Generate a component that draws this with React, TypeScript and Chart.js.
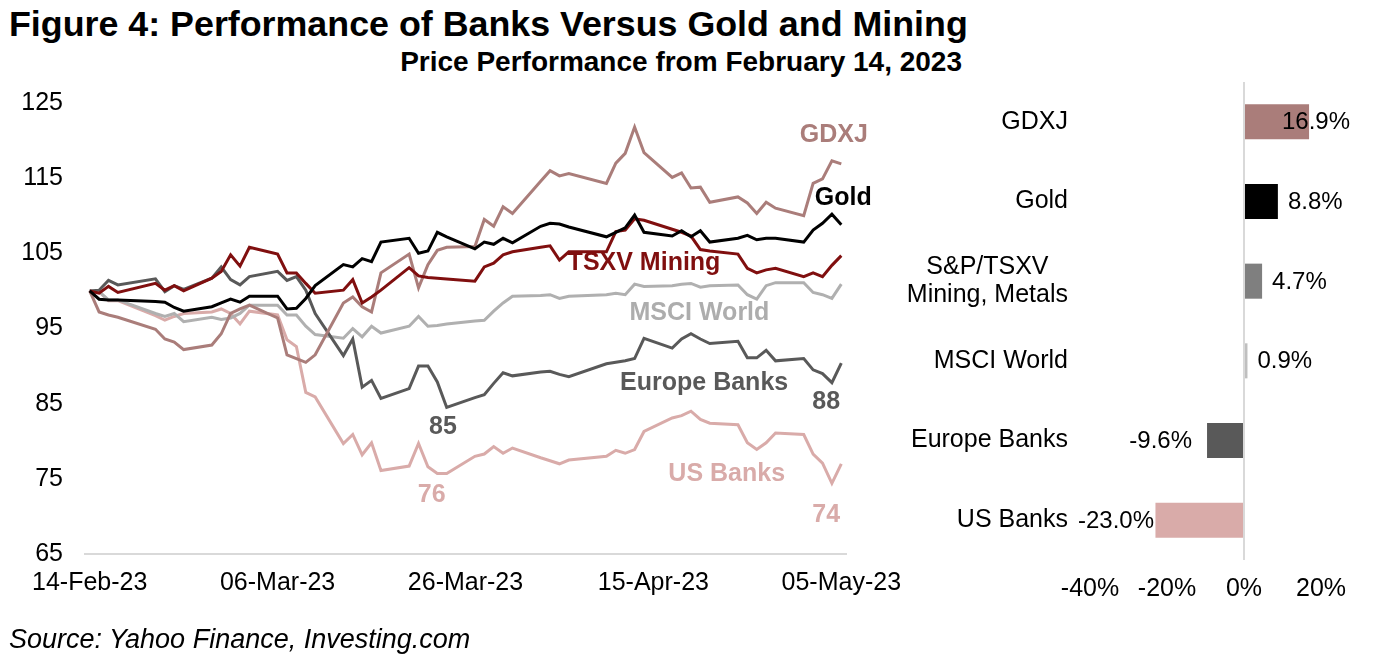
import React, { useEffect, useRef } from 'react';
import { Chart, registerables } from 'chart.js';

Chart.register(...registerables);

const FONT = '"Liberation Sans", Arial, Helvetica, sans-serif';

// ---------- Line chart data ----------
const startDate = '2023-02-14';
const dates = [
  '2023-02-14', '2023-02-15', '2023-02-16', '2023-02-17',
  '2023-02-21', '2023-02-22', '2023-02-23', '2023-02-24',
  '2023-02-27', '2023-02-28', '2023-03-01', '2023-03-02', '2023-03-03',
  '2023-03-06', '2023-03-07', '2023-03-08', '2023-03-09', '2023-03-10',
  '2023-03-13', '2023-03-14', '2023-03-15', '2023-03-16', '2023-03-17',
  '2023-03-20', '2023-03-21', '2023-03-22', '2023-03-23', '2023-03-24',
  '2023-03-27', '2023-03-28', '2023-03-29', '2023-03-30', '2023-03-31',
  '2023-04-03', '2023-04-04', '2023-04-05', '2023-04-06',
  '2023-04-10', '2023-04-11', '2023-04-12', '2023-04-13', '2023-04-14',
  '2023-04-17', '2023-04-18', '2023-04-19', '2023-04-20', '2023-04-21',
  '2023-04-24', '2023-04-25', '2023-04-26', '2023-04-27', '2023-04-28',
  '2023-05-01', '2023-05-02', '2023-05-03', '2023-05-04', '2023-05-05',
];

const xTickDates = ['2023-02-14', '2023-03-06', '2023-03-26', '2023-04-15', '2023-05-05'];
const xTickLabels = ['14-Feb-23', '06-Mar-23', '26-Mar-23', '15-Apr-23', '05-May-23'];

const gold = [
  100.0, 98.9, 98.8, 98.8,
  98.6, 98.5, 97.8, 97.3,
  97.9, 98.4, 98.9, 98.5, 99.3,
  99.3, 97.6, 97.7, 99.0, 100.7,
  103.5, 103.2, 104.3, 103.9, 106.5,
  107.0, 105.0, 105.3, 107.8, 107.2,
  105.6, 106.5, 106.2, 107.0, 106.4,
  108.6, 109.0, 108.9, 108.5,
  107.2, 107.8, 108.4, 110.1, 107.8,
  107.3, 108.0, 107.2, 108.0, 106.5,
  107.0, 107.4, 106.8, 107.0, 107.0,
  106.5, 108.1, 109.0, 110.2, 108.8,
];

const tsxvMining = [
  100.0, 99.7, 100.6, 99.8,
  101.0, 100.1, 100.7, 100.0,
  101.7, 102.6, 104.8, 103.3, 105.8,
  104.9, 102.4, 102.4, 101.0, 99.7,
  100.1, 101.5, 98.4, 99.2, 100.1,
  103.1, 102.0, 101.8, 101.7, 101.6,
  101.3, 103.2, 103.7, 104.8, 105.2,
  105.8, 106.0, 104.1, 105.2,
  105.2, 107.9, 108.1, 109.6, 109.4,
  108.2, 107.8, 107.3, 105.5, 105.3,
  104.9, 103.0, 102.4, 102.8, 103.0,
  101.9, 102.4, 101.9, 103.4, 104.7,
];

const gdxj = [
  100.0, 97.2, 96.8, 96.5,
  94.9, 93.6, 93.2, 92.2,
  92.8, 94.3, 97.0, 97.6, 98.1,
  96.4, 91.5, 91.0, 90.5, 91.5,
  98.4, 99.2, 97.9, 97.2, 102.4,
  104.9, 100.4, 103.5, 105.4, 105.8,
  105.9, 109.5, 108.6, 111.2, 110.3,
  114.6, 116.0, 115.3, 115.6,
  114.3, 117.0, 118.3, 121.8, 118.4,
  115.1, 115.7, 113.7, 113.8, 111.8,
  112.5, 111.7, 110.3, 111.8, 111.0,
  110.0, 114.3, 114.9, 117.3, 116.9,
];

const msciWorld = [
  100.0, 99.9, 98.8, 98.8,
  97.0, 96.6, 97.0, 95.9,
  96.5, 96.2, 96.4, 97.0, 98.1,
  98.1, 96.8, 96.8, 95.3, 94.2,
  93.7, 95.0, 93.9, 95.3, 94.4,
  95.3, 96.6, 95.3, 95.4, 95.6,
  96.0, 96.1, 97.3, 98.4, 99.3,
  99.4, 99.5, 99.0, 99.3,
  99.5, 99.7, 99.5, 100.9, 100.6,
  100.7, 100.9, 101.0, 100.5, 100.7,
  100.8, 99.5, 98.9, 100.7, 101.1,
  101.1, 99.8, 99.5, 99.0, 100.9,
];

const europeBanks = [
  100.0, 100.1, 101.4, 100.8,
  101.6, 99.9, 100.7, 100.2,
  101.7, 103.2, 101.5, 100.8, 101.9,
  102.6, 101.4, 101.9, 100.1, 97.0,
  91.4, 93.6, 87.2, 88.1, 85.7,
  87.0, 90.0, 90.0, 87.9, 84.5,
  85.8, 86.2, 87.7, 89.1, 88.7,
  89.2, 89.3, 88.9, 88.6,
  90.3, 90.5, 90.7, 91.0, 93.7,
  92.4, 93.6, 94.3, 93.6, 93.0,
  93.3, 91.1, 91.1, 92.1, 90.7,
  91.0, 89.5, 89.0, 87.8, 90.4,
];

const usBanks = [
  100.0, 99.9, 98.7, 98.7,
  96.7, 96.1, 96.6, 97.0,
  97.2, 97.6, 97.0, 95.6, 97.3,
  96.8, 93.5, 92.6, 86.5, 85.9,
  79.7, 80.9, 78.2, 79.8, 76.1,
  76.7, 79.7, 76.6, 75.7, 75.7,
  78.0, 78.3, 79.3, 78.4, 79.1,
  77.8, 77.4, 77.0, 77.5,
  78.0, 78.8, 78.4, 78.9, 81.3,
  83.1, 83.4, 84.0, 82.9, 82.4,
  82.2, 79.8, 78.9, 79.8, 81.1,
  80.9, 78.3, 77.1, 74.4, 77.0,
];

const seriesNames = ['Gold', 'TSXV Mining', 'GDXJ', 'Europe Banks', 'MSCI World', 'US Banks'];
const seriesValues = [gold, tsxvMining, gdxj, europeBanks, msciWorld, usBanks];
const seriesColors = ['#000000', '#800F0F', '#AA7D7A', '#595959', '#B0B0B0', '#D9ABA9'];

// in-chart labels: text, position (day offset, value), colour
const lineLabelTexts = ['GDXJ', 'Gold', 'TSXV Mining', 'MSCI World', 'Europe Banks', '88', '85', '76', 'US Banks', '74'];
const lineLabelDays = [79.2, 80.2, 59.0, 64.9, 65.4, 78.4, 37.6, 36.4, 67.8, 78.4];
const lineLabelValues = [120.7, 112.4, 103.65, 97.0, 87.75, 85.2, 81.9, 72.9, 75.65, 70.2];
const lineLabelColors = ['#AA7D7A', '#000000', '#800F0F', '#ADADAD', '#595959', '#595959', '#595959', '#D9ABA9', '#D9ABA9', '#D9ABA9'];

// ---------- Bar chart data ----------
const barCategories = [['GDXJ'], ['Gold'], ['S&P/TSXV', 'Mining, Metals'], ['MSCI World'], ['Europe Banks'], ['US Banks']];
const barValues = [16.9, 8.8, 4.7, 0.9, -9.6, -23.0];
const barColors = ['#AA7D7A', '#000000', '#7F7F7F', '#BFBFBF', '#595959', '#D9ABA9'];

function dayOf(s: string): number {
  const [y, m, d] = s.split('-').map(Number);
  const [y0, m0, d0] = startDate.split('-').map(Number);
  return (Date.UTC(y, m - 1, d) - Date.UTC(y0, m0 - 1, d0)) / 86400000;
}

const lineLabelPlugin = {
  id: 'lineLabels',
  afterDatasetsDraw(chart: any) {
    const { ctx } = chart;
    const xs = chart.scales.x;
    const ys = chart.scales.y;
    ctx.save();
    ctx.font = `bold 25px ${FONT}`;
    ctx.textAlign = 'center';
    ctx.textBaseline = 'middle';
    lineLabelTexts.forEach((t, i) => {
      ctx.fillStyle = lineLabelColors[i];
      ctx.fillText(t, xs.getPixelForValue(lineLabelDays[i]), ys.getPixelForValue(lineLabelValues[i]));
    });
    ctx.restore();
  },
};

const barTextPlugin = {
  id: 'barTexts',
  afterDatasetsDraw(chart: any) {
    const { ctx } = chart;
    const ys = chart.scales.y;
    const meta = chart.getDatasetMeta(0);
    ctx.save();
    ctx.textBaseline = 'middle';
    // category labels
    ctx.font = `25px ${FONT}`;
    ctx.fillStyle = '#000';
    ctx.textAlign = 'center';
    barCategories.forEach((lines, i) => {
      const yc = ys.getPixelForValue(i);
      const maxW = Math.max(...lines.map((l) => ctx.measureText(l).width));
      const cx = 188 - maxW / 2;
      lines.forEach((l, j) => {
        ctx.fillText(l, cx, yc + (j - (lines.length - 1) / 2) * 28);
      });
    });
    // value labels
    ctx.font = `24px ${FONT}`;
    ctx.textAlign = 'left';
    meta.data.forEach((bar: any, i: number) => {
      const v = barValues[i];
      const text = v.toFixed(1) + '%';
      const w = ctx.measureText(text).width;
      let left;
      if (v >= 0) {
        left = bar.x + 10;
        if (left + w > chart.width - 37) left = chart.width - 37 - w;
      } else {
        left = bar.x - 15 - w;
        if (left < 198) left = 198;
      }
      ctx.fillText(text, left, bar.y + 1);
    });
    ctx.restore();
  },
};

export default function App() {
  const leftRef = useRef<HTMLCanvasElement>(null);
  const rightRef = useRef<HTMLCanvasElement>(null);

  useEffect(() => {
    const tickFont = { family: FONT, size: 25 };
    const lineChart = new Chart(leftRef.current as HTMLCanvasElement, {
      type: 'line',
      data: {
        datasets: seriesNames.map((name, k) => ({
          label: name,
          data: dates.map((d, i) => ({ x: dayOf(d), y: seriesValues[k][i] })),
          borderColor: seriesColors[k],
          backgroundColor: seriesColors[k],
          borderWidth: 3,
          pointRadius: 0,
          tension: 0,
          fill: false,
        })),
      },
      options: {
        animation: false,
        responsive: false,
        layout: { padding: { left: 0, top: 103, right: 64, bottom: 53 } },
        plugins: { legend: { display: false }, tooltip: { enabled: false } },
        scales: {
          x: {
            type: 'linear',
            min: -0.5,
            max: 80.5,
            afterBuildTicks: (s: any) => {
              s.ticks = xTickDates.map((d) => ({ value: dayOf(d) }));
            },
            afterFit: (s: any) => {
              s.height = 60;
              s.paddingLeft = 0;
              s.paddingRight = 0;
            },
            ticks: {
              autoSkip: false,
              maxRotation: 0,
              font: tickFont,
              color: '#000',
              padding: 14,
              callback: (_v: any, i: number) => xTickLabels[i],
            },
            grid: { display: false, drawTicks: false },
            border: { display: true, color: '#D9D9D9', width: 2 },
          },
          y: {
            min: 65,
            max: 125,
            afterFit: (s: any) => {
              s.width = 85;
              s.paddingTop = 0;
              s.paddingBottom = 0;
            },
            ticks: { stepSize: 10, font: tickFont, color: '#000', padding: 22 },
            grid: { display: false, drawTicks: false },
            border: { display: false },
          },
        },
      } as any,
      plugins: [lineLabelPlugin],
    });

    const barChart = new Chart(rightRef.current as HTMLCanvasElement, {
      type: 'bar',
      data: {
        labels: barCategories.map((c) => c.join(' ')),
        datasets: [
          {
            data: barValues,
            backgroundColor: barColors,
            categoryPercentage: 1,
            barPercentage: 0.44,
          },
        ],
      },
      options: {
        indexAxis: 'y',
        animation: false,
        responsive: false,
        layout: { padding: { left: 0, top: 82, right: 66, bottom: 47 } },
        plugins: { legend: { display: false }, tooltip: { enabled: false } },
        scales: {
          x: {
            min: -40,
            max: 20,
            afterFit: (s: any) => {
              s.height = 60;
              s.paddingLeft = 0;
              s.paddingRight = 0;
            },
            ticks: {
              stepSize: 20,
              font: tickFont,
              color: '#000',
              padding: 14,
              maxRotation: 0,
              callback: (v: any) => v + '%',
            },
            grid: {
              drawTicks: false,
              lineWidth: 2,
              color: (ctx: any) => (ctx.tick && ctx.tick.value === 0 ? '#D9D9D9' : 'rgba(0,0,0,0)'),
            },
            border: { display: false },
          },
          y: {
            afterFit: (s: any) => {
              s.width = 210;
              s.paddingTop = 0;
              s.paddingBottom = 0;
            },
            ticks: { display: false },
            grid: { display: false, drawTicks: false },
            border: { display: false },
          },
        },
      } as any,
      plugins: [barTextPlugin],
    });

    return () => {
      lineChart.destroy();
      barChart.destroy();
    };
  }, []);

  return (
    <div
      style={{
        position: 'absolute',
        left: 0,
        top: 0,
        width: 1387,
        height: 667,
        background: '#fff',
        fontFamily: FONT,
        color: '#000',
        overflow: 'hidden',
      }}
    >
      <div style={{ position: 'absolute', left: 9, top: 4, fontSize: 35.8, fontWeight: 'bold', lineHeight: '40px', whiteSpace: 'nowrap' }}>
        Figure 4: Performance of Banks Versus Gold and Mining
      </div>
      <div style={{ position: 'absolute', right: 425, top: 46, fontSize: 28, fontWeight: 'bold', lineHeight: '32px', whiteSpace: 'nowrap' }}>
        Price Performance from February 14, 2023
      </div>
      <canvas ref={leftRef} width={910} height={667} style={{ position: 'absolute', left: 0, top: 0 }} />
      <canvas ref={rightRef} width={507} height={667} style={{ position: 'absolute', left: 880, top: 0 }} />
      <div style={{ position: 'absolute', left: 9, top: 623, fontSize: 27, fontStyle: 'italic', lineHeight: '32px', whiteSpace: 'nowrap' }}>
        Source: Yahoo Finance, Investing.com
      </div>
    </div>
  );
}
